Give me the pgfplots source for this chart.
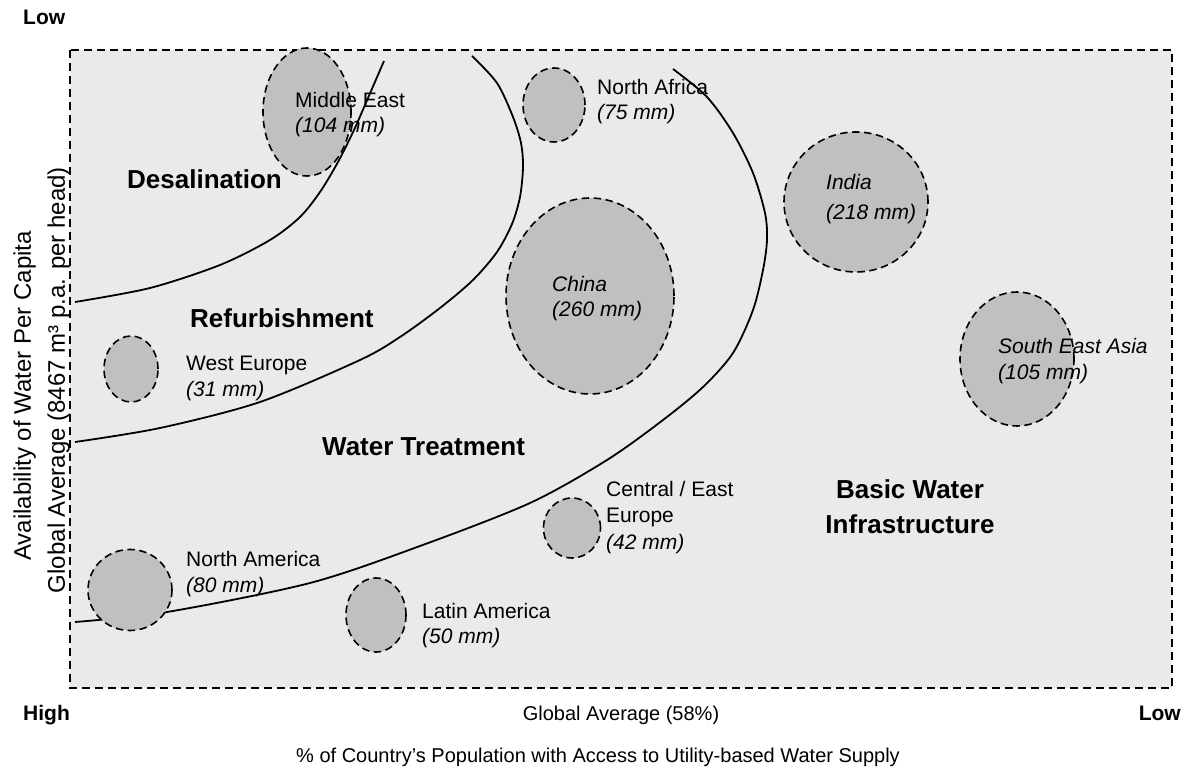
\documentclass[border=0pt]{standalone}
\usepackage{pgfplots}
\pgfplotsset{compat=1.18}
\usepackage{pgfplotstable}
\usepackage{fontspec}
\setmainfont{Liberation Sans}
\definecolor{bg}{RGB}{234,234,234}
\definecolor{bub}{RGB}{192,192,192}
\newcommand\lab{\fontsize{21}{25}\selectfont}
\newcommand\axl{\fontsize{20}{24}\selectfont}
\newcommand\yl{\fontsize{24}{28}\selectfont}
\newcommand\reg{\fontsize{26}{30}\selectfont\bfseries}
\pgfdeclareplotmark{ell}{%
  \pgfsetdash{{7.5pt}{4.5pt}}{0pt}%
  \pgfpathellipse{\pgfpointorigin}{\pgfpoint{\rx pt}{0pt}}{\pgfpoint{0pt}{\ry pt}}%
  \pgfusepathqfillstroke}
\pgfplotstableread{
x y rx ry
307 112 44 64
554 105 31 37
590 296 84 98
856 202 72 70
1017 359 57 67
131 369 27 33
572 528 28.5 30
376 615 30 37
}\bubbles
\pgfplotstableread{
x y rx ry
130 590 42 40.5
}\northamerica
\begin{document}
\begin{tikzpicture}
\begin{axis}[
  set layers, mark layer=like plot,
  scale only axis, width=1102pt, height=638pt,
  xmin=70, xmax=1172, ymin=50, ymax=688, y dir=reverse,
  axis background/.style={fill=bg},
  axis line style={black, line width=1.6pt, dash pattern=on 8pt off 5pt},
  ticks=none, clip=false,
  ellplot/.style={scatter, only marks, mark=ell,
    scatter/use mapped color={draw=black, fill=bub},
    mark options={line width=1.6pt},
    visualization depends on={\thisrow{rx}\as\rx},
    visualization depends on={\thisrow{ry}\as\ry}},
  curve/.style={black, line width=1.8pt, smooth, mark=none, on layer=axis descriptions},
]
\path (axis cs:0,0) rectangle (axis cs:1196,768);
\addplot[ellplot] table[x=x,y=y] {\bubbles};
% Desalination boundary
\addplot[curve] coordinates {(75,302) (150,288) (220,265) (270,240) (300,217) (320,192) (338,162) (354,130) (368,98) (384,61)};
% Refurbishment boundary
\addplot[curve] coordinates {(75,442) (160,428) (260,402) (360,360) (400,337) (440,308) (473,280) (497,252) (512,224) (520,197) (523,167) (521,143) (513,117) (497,83) (472,56)};
% Water treatment boundary
\addplot[curve] coordinates {(75,622) (167,612) (310,583) (420,546) (530,503) (607,460) (663,420) (703,387) (733,353) (753,310) (763,270) (767,240) (765,213) (753,173) (733,133) (707,97) (673,69)};
\addplot[ellplot, on layer=axis foreground] table[x=x,y=y] {\northamerica};

\begin{pgfonlayer}{axis foreground}
% region labels
\node[anchor=base west, inner sep=0, font=\reg] at (axis cs:127,189) {Desalination};
\node[anchor=base west, inner sep=0, font=\reg] at (axis cs:190,328) {Refurbishment};
\node[anchor=base west, inner sep=0, font=\reg] at (axis cs:322,456) {Water Treatment};
\node[anchor=base, inner sep=0, font=\reg] at (axis cs:910,499) {Basic Water};
\node[anchor=base, inner sep=0, font=\reg] at (axis cs:910,534) {Infrastructure};

% bubble labels
\node[anchor=base west, inner sep=0, font=\lab] at (axis cs:295,108) {Middle East};
\node[anchor=base west, inner sep=0, font=\lab\itshape] at (axis cs:295,133) {(104 mm)};
\node[anchor=base west, inner sep=0, font=\lab] at (axis cs:597,95) {North Africa};
\node[anchor=base west, inner sep=0, font=\lab\itshape] at (axis cs:597,120) {(75 mm)};
\node[anchor=base west, inner sep=0, font=\lab\itshape] at (axis cs:826,190) {India};
\node[anchor=base west, inner sep=0, font=\lab\itshape] at (axis cs:826,220) {(218 mm)};
\node[anchor=base west, inner sep=0, font=\lab\itshape] at (axis cs:552,292) {China};
\node[anchor=base west, inner sep=0, font=\lab\itshape] at (axis cs:552,317) {(260 mm)};
\node[anchor=base west, inner sep=0, font=\lab\itshape] at (axis cs:998,354) {South East Asia};
\node[anchor=base west, inner sep=0, font=\lab\itshape] at (axis cs:998,380) {(105 mm)};
\node[anchor=base west, inner sep=0, font=\lab] at (axis cs:186,371) {West Europe};
\node[anchor=base west, inner sep=0, font=\lab\itshape] at (axis cs:186,397) {(31 mm)};
\node[anchor=base west, inner sep=0, font=\lab] at (axis cs:606,497) {Central / East};
\node[anchor=base west, inner sep=0, font=\lab] at (axis cs:606,523) {Europe};
\node[anchor=base west, inner sep=0, font=\lab\itshape] at (axis cs:606,550) {(42 mm)};
\node[anchor=base west, inner sep=0, font=\lab] at (axis cs:186,567) {North America};
\node[anchor=base west, inner sep=0, font=\lab\itshape] at (axis cs:186,593) {(80 mm)};
\node[anchor=base west, inner sep=0, font=\lab] at (axis cs:422,619) {Latin America};
\node[anchor=base west, inner sep=0, font=\lab\itshape] at (axis cs:422,644) {(50 mm)};

% axis annotations
\node[anchor=base west, inner sep=0, font=\lab\bfseries] at (axis cs:23,25) {Low};
\node[anchor=base west, inner sep=0, font=\lab\bfseries] at (axis cs:23,720) {High};
\node[anchor=base east, inner sep=0, font=\lab\bfseries] at (axis cs:1181,720) {Low};
\node[anchor=base, inner sep=0, font=\axl] at (axis cs:621,720) {Global Average (58\%)};
\node[anchor=base, inner sep=0, font=\axl] at (axis cs:598,762) {\% of Country’s Population with Access to Utility-based Water Supply};
\node[anchor=base, inner sep=0, rotate=90, font=\yl] at (axis cs:31,396) {Availability of Water Per Capita};
\node[anchor=base, inner sep=0, rotate=90, font=\yl] at (axis cs:65,380) {Global Average (8467 m³ p.a. per head)};
\end{pgfonlayer}
\end{axis}
\end{tikzpicture}
\end{document}
